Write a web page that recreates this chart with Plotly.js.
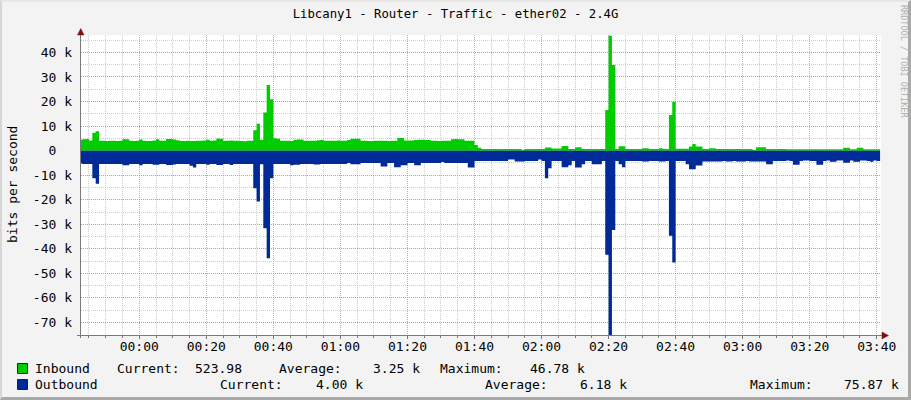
<!DOCTYPE html>
<html><head><meta charset="utf-8">
<script src="https://cdn.plot.ly/plotly-3.0.1.min.js"></script>
<style>
html,body{margin:0;padding:0;background:#f3f3f3;}
#wrap{position:relative;width:911px;height:400px;overflow:hidden;}
#chart{width:911px;height:400px;}
#frame{position:absolute;left:0;top:0;width:911px;height:400px;box-sizing:border-box;border-right:3px solid #a9a9a9;border-bottom:3px solid #a9a9a9;border-left:2px solid #d6d6d6;border-top:2px solid #e6e6e6;pointer-events:none;}
</style></head>
<body><div id="wrap"><div id="chart"></div><div id="frame"></div></div>
<script>
// ---- data (k bits per second), one sample per minute starting 23:42 ----
const chartTitle = 'Libcany1 - Router - Traffic - ether02 - 2.4G';
const yAxisLabel = 'bits per second';
const watermark = 'RRDTOOL / TOBI OETIKER';
const startTime = Date.UTC(2024, 0, 1, 23, 42, 0);
const stepMs = 60000;

const inbound = [
 4.4, 4.6, 4.7, 4.1, 7.3, 7.9, 4.0, 4.0, 3.9, 4.0,
 4.0, 3.9, 4.0, 4.6, 4.6, 4.0, 3.9, 4.0, 4.5, 4.0,
 3.9, 3.9, 4.1, 4.6, 4.0, 4.0, 4.7, 4.7, 4.5, 4.2,
 3.9, 3.9, 4.0, 3.9, 3.9, 4.0, 4.0, 4.1, 4.4, 4.0,
 4.1, 4.9, 4.8, 4.0, 4.0, 4.1, 4.0, 4.0, 3.9, 3.8,
 4.0, 4.0, 8.3, 10.9, 4.4, 15.5, 26.7, 20.9, 5.0, 4.8,
 4.0, 4.0, 4.0, 3.9, 4.4, 4.5, 4.5, 4.0, 4.0, 4.0,
 4.0, 4.2, 4.3, 4.0, 4.0, 4.0, 4.0, 4.1, 4.0, 4.0, 4.3,
 4.8, 4.8, 4.8, 4.0, 4.0, 3.9, 3.9, 4.0, 4.0, 4.0,
 4.0, 3.9, 4.0, 4.0, 5.1, 5.1, 4.1, 4.1, 4.1, 4.3,
 4.4, 4.4, 4.3, 4.3, 4.0, 4.0, 3.9, 4.0, 4.0, 4.0,
 4.6, 4.7, 4.6, 4.6, 4.0, 4.0, 4.0, 2.3, 1.2, 0.7,
 0.7, 0.7, 0.7, 0.7, 0.7, 0.7, 0.7, 0.7, 0.7, 0.7,
 0.7, 0.4, 0.7, 0.7, 0.7, 0.7, 0.7, 0.7, 1.3, 1.3,
 0.9, 0.9, 0.9, 1.9, 1.9, 0.7, 0.7, 1.4, 1.4, 0.7,
 0.7, 0.7, 0.7, 0.7, 0.7, 0.7, 16.6, 46.78, 34.9, 0.7,
 1.8, 1.8, 0.7, 0.7, 0.7, 0.7, 0.7, 1.0, 1.0, 0.7,
 0.7, 0.7, 1.0, 0.8, 0.7, 14.5, 19.9, 0.8, 0.8, 0.8,
 0.8, 1.7, 2.7, 1.7, 1.7, 0.7, 0.7, 1.0, 1.0, 0.7,
 0.7, 0.7, 0.7, 0.7, 0.7, 0.7, 0.7, 0.7, 0.7, 0.7,
 0.3, 1.4, 1.4, 1.4, 0.7, 0.7, 0.7, 0.7, 0.7, 0.7,
 0.6, 0.6, 0.6, 0.6, 0.6, 0.6, 0.6, 0.6, 0.6, 0.6,
 0.6, 0.6, 0.6, 0.6, 0.6, 0.6, 0.6, 1.2, 1.2, 0.6,
 0.6, 1.2, 1.2, 0.6, 0.6, 0.6, 0.6, 0.6, 0.52
];

const outbound = [
 5.2, 5.4, 5.4, 5.4, 11.2, 13.5, 5.4, 5.4, 5.4, 5.4,
 5.4, 5.4, 5.4, 6.0, 6.0, 5.4, 5.4, 5.4, 6.0, 5.4,
 5.4, 5.4, 5.8, 5.8, 5.4, 5.4, 5.9, 5.9, 5.6, 5.4,
 5.4, 5.4, 5.4, 6.2, 6.9, 5.4, 5.4, 5.4, 5.8, 5.4,
 5.4, 5.9, 5.9, 5.4, 5.4, 5.9, 5.4, 5.4, 5.4, 5.4,
 5.4, 5.4, 15.3, 20.7, 5.5, 31.6, 43.8, 11.2, 5.4, 5.4,
 5.4, 5.4, 5.4, 6.0, 5.8, 5.8, 5.4, 5.4, 5.4, 5.4,
 5.7, 5.7, 5.4, 5.4, 5.4, 5.4, 5.4, 5.4, 5.4, 5.4, 5.0,
 5.5, 5.5, 5.5, 5.0, 5.0, 5.0, 5.0, 5.0, 5.0, 6.5,
 6.5, 5.0, 5.0, 6.8, 6.8, 6.0, 6.0, 5.0, 5.0, 6.0,
 6.0, 5.0, 5.0, 5.0, 5.0, 5.0, 5.0, 4.6, 5.0, 5.0,
 5.0, 5.0, 5.0, 5.0, 5.0, 6.9, 6.9, 4.2, 4.2, 4.2,
 4.2, 4.2, 4.2, 4.2, 4.2, 4.2, 4.2, 3.6, 3.6, 4.4,
 4.4, 4.4, 4.2, 4.2, 4.2, 4.2, 3.6, 4.2, 11.2, 7.2,
 4.2, 4.2, 4.2, 6.8, 6.8, 6.0, 4.2, 6.9, 6.9, 5.5,
 4.2, 4.2, 5.5, 5.5, 5.5, 4.2, 42.4, 75.87, 32.3, 4.2,
 5.5, 6.8, 4.2, 4.2, 4.2, 4.2, 4.2, 4.4, 4.4, 4.2,
 4.2, 4.2, 4.4, 4.4, 4.2, 34.7, 45.6, 4.2, 4.2, 4.2,
 5.5, 7.6, 7.6, 6.1, 6.1, 4.4, 4.4, 4.4, 4.4, 4.4,
 4.4, 4.2, 4.4, 4.4, 4.2, 4.4, 4.4, 4.4, 4.2, 4.4,
 4.4, 4.4, 4.4, 4.4, 5.5, 5.5, 4.2, 4.2, 4.2, 4.2,
 4.0, 4.2, 5.8, 5.8, 4.2, 4.0, 4.0, 4.2, 4.2, 5.8,
 5.8, 4.2, 4.0, 4.5, 4.5, 4.0, 4.0, 4.9, 4.9, 4.0,
 4.5, 4.5, 4.0, 4.0, 4.2, 4.5, 4.0, 4.2, 4.0
];

const yTickVals = [-70, -60, -50, -40, -30, -20, -10, 0, 10, 20, 30, 40];
const yTickText = ['-70 k', '-60 k', '-50 k', '-40 k', '-30 k', '-20 k', '-10 k', '0\u00a0\u00a0', '10 k', '20 k', '30 k', '40 k'];

const legendNames = ['Inbound', 'Outbound'];
const currentVals = ['523.98', '4.00 k'];
const averageVals = ['3.25 k', '6.18 k'];
const maximumVals = ['46.78 k', '75.87 k'];

// ---- styles / geometry ----
const GREEN = '#00cc00', BLUE = '#002a97';
const MONO = 'DejaVu Sans Mono';
const L = 81, T = 35, W = 800, H = 300;
const X = p => (p - L) / W;
const Y = p => (T + H - p) / H;

const xs = inbound.map((_, i) => startTime + i * stepMs);

const traces = [
  {x: xs, y: inbound, type: 'scatter', mode: 'lines', line: {shape: 'hv', width: 0, color: GREEN},
   fill: 'tozeroy', fillcolor: GREEN, hoverinfo: 'skip'},
  {x: xs, y: outbound.map(v => -v), type: 'scatter', mode: 'lines', line: {shape: 'hv', width: 0, color: BLUE},
   fill: 'tozeroy', fillcolor: BLUE, hoverinfo: 'skip'}
];

const rowY = [368, 384];
const annotations = [
  {xref: 'paper', yref: 'paper', x: X(12), y: Y(185), text: yAxisLabel, textangle: -90, showarrow: false,
   xanchor: 'center', yanchor: 'middle', font: {family: MONO, size: 13, color: '#000'}},
  {xref: 'paper', yref: 'paper', x: X(904), y: Y(61), text: watermark, textangle: 90, showarrow: false,
   xanchor: 'center', yanchor: 'middle', font: {family: MONO, size: 8.5, color: '#b0b0b0'}}
];
function lab(px, py, text) {
  annotations.push({xref: 'paper', yref: 'paper', x: X(px), y: Y(py), text: text, showarrow: false,
    xanchor: 'left', yanchor: 'middle', borderpad: 0, font: {family: MONO, size: 13, color: '#000'}});
}
// row 1
lab(34, rowY[0], legendNames[0]);
lab(116, rowY[0], 'Current:');
lab(194, rowY[0], currentVals[0]);
lab(278, rowY[0], 'Average:');
lab(372, rowY[0], averageVals[0]);
lab(439, rowY[0], 'Maximum:');
lab(529, rowY[0], maximumVals[0]);
// row 2
lab(34, rowY[1], legendNames[1]);
lab(219, rowY[1], 'Current:');
lab(315, rowY[1], currentVals[1]);
lab(484, rowY[1], 'Average:');
lab(579, rowY[1], averageVals[1]);
lab(749, rowY[1], 'Maximum:');
lab(843, rowY[1], maximumVals[1]);

const AX = '#7a7a7a', ARROW = '#7f1010';
const shapes = [
  {type: 'line', xref: 'paper', yref: 'paper', x0: X(80.5), x1: X(80.5), y0: Y(338), y1: Y(31), line: {color: AX, width: 1}, layer: 'above'},
  {type: 'line', xref: 'paper', yref: 'paper', x0: X(77), x1: X(884), y0: Y(335.5), y1: Y(335.5), line: {color: AX, width: 1}, layer: 'above'},
  {type: 'path', xref: 'paper', yref: 'paper', path: `M ${X(77.5)},${Y(35)} L ${X(84)},${Y(35)} L ${X(80.75)},${Y(28.5)} Z`, fillcolor: ARROW, line: {color: ARROW, width: 0.5}, layer: 'above'},
  {type: 'path', xref: 'paper', yref: 'paper', path: `M ${X(882)},${Y(332)} L ${X(882)},${Y(339)} L ${X(888.5)},${Y(335.5)} Z`, fillcolor: ARROW, line: {color: ARROW, width: 0.5}, layer: 'above'},
  {type: 'rect', xref: 'paper', yref: 'paper', x0: X(17.5), x1: X(27.5), y0: Y(373.5), y1: Y(363.5), fillcolor: GREEN, line: {color: '#222', width: 1}},
  {type: 'rect', xref: 'paper', yref: 'paper', x0: X(17.5), x1: X(27.5), y0: Y(389.5), y1: Y(379.5), fillcolor: BLUE, line: {color: '#222', width: 1}}
];

const layout = {
  width: 911, height: 400,
  margin: {l: L, r: 911 - L - W, t: T, b: 400 - T - H, pad: 0},
  paper_bgcolor: '#f3f3f3', plot_bgcolor: '#ffffff',
  showlegend: false, hovermode: false,
  title: {text: chartTitle, xref: 'container', yref: 'container', x: 0.5, xanchor: 'center', y: 1 - 14 / 400, yanchor: 'middle',
          font: {family: MONO, size: 12.3, color: '#000'}},
  xaxis: {type: 'date', range: ['2024-01-01 23:42:37', '2024-01-02 03:41:16'],
          tick0: '2024-01-02 00:00:00', dtick: 20 * 60000, tickformat: '%H:%M',
          showgrid: true, gridcolor: 'rgba(235,120,120,0.75)', griddash: '1px,1px', gridwidth: 1,
          ticks: 'outside', ticklen: 3, tickcolor: AX, showline: false, zeroline: false,
          tickfont: {family: MONO, size: 13, color: '#000'}, ticklabelstandoff: -4,
          minor: {dtick: 5 * 60000, showgrid: true, gridcolor: 'rgba(170,170,170,0.6)', griddash: '1px,1px', gridwidth: 1,
                  ticks: 'outside', ticklen: 2, tickcolor: AX}},
  yaxis: {range: [-75.1, 47.1], tickvals: yTickVals, ticktext: yTickText,
          showgrid: true, gridcolor: 'rgba(235,120,120,0.75)', griddash: '1px,1px', gridwidth: 1,
          ticks: '', showline: false, zeroline: false, ticklabelstandoff: 8,
          tickfont: {family: MONO, size: 13, color: '#000'},
          minor: {tick0: 0, dtick: 5, showgrid: true, gridcolor: 'rgba(170,170,170,0.6)', griddash: '1px,1px', gridwidth: 1}},
  annotations: annotations,
  shapes: shapes
};

Plotly.newPlot('chart', traces, layout, {staticPlot: true, displayModeBar: false});
</script>
</body></html>
